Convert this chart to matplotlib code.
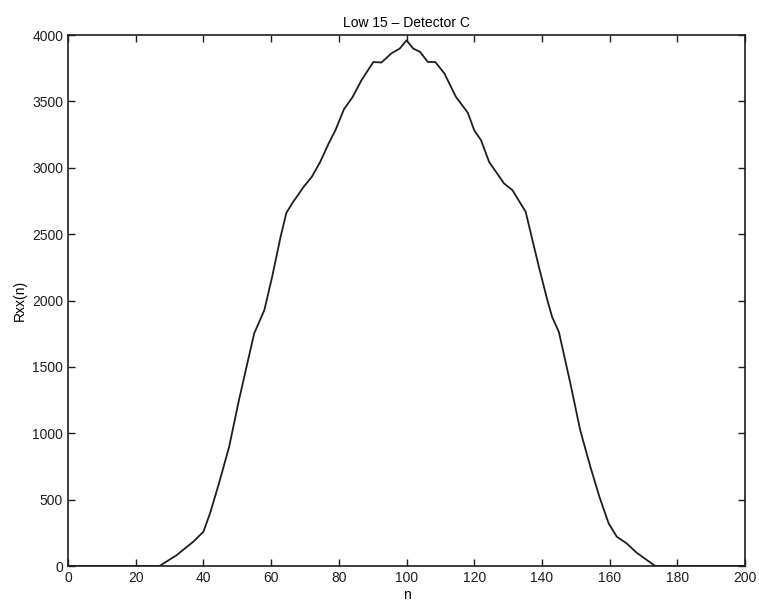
import matplotlib.pyplot as plt

plt.rcParams['font.family'] = ['Liberation Sans', 'DejaVu Sans']

# samples
n = [0, 27, 32, 37, 40, 42, 44.6, 47.6, 50.5, 53, 55, 58, 60.3, 62.8, 64.5,
     66.2, 69.6, 72, 74.5, 77, 79, 81.5, 84, 86.7, 90.2, 92.6, 95.5, 98, 100,
     102, 104, 106.3, 108.5, 111.2, 114.6, 118.1, 120, 122, 124.4, 128.8,
     131.3, 135.2, 137.2, 139.1, 141.6, 143, 145, 148.4, 151.3, 154.3, 157,
     159.7, 162.1, 165, 168, 171, 173.5, 200]
rxx = [0, 0, 80, 183, 258, 400, 623, 898, 1250, 1530, 1752, 1928, 2178, 2480,
       2660, 2731, 2856, 2931, 3044, 3183, 3283, 3440, 3530, 3660, 3797, 3793,
       3861, 3898, 3960, 3898, 3873, 3797, 3797, 3710, 3534, 3415, 3283, 3208,
       3044, 2882, 2831, 2668, 2455, 2254, 2003, 1877, 1764, 1376, 1024, 748,
       520, 322, 221, 171, 100, 45, 0, 0]

xticks = list(range(0, 201, 20))
yticks = list(range(0, 4001, 500))

fig = plt.figure(figsize=(7.59, 6.04), dpi=100)
ax = fig.add_axes([0.0896, 0.0629, 0.8920, 0.8791])
ax.plot(n, rxx, color='#1e1e1e', linewidth=1.3)

ax.set_xlim(0, 200)
ax.set_ylim(0, 4000)
ax.set_xticks(xticks)
ax.set_yticks(yticks)
ax.tick_params(direction='in', top=True, right=True, labelsize=10, length=5,
               width=1, colors='#1e1e1e')
for s in ax.spines.values():
    s.set_linewidth(1.2)
    s.set_color('#1e1e1e')

ax.set_xlabel('n', fontsize=10, labelpad=2)
ax.set_ylabel('Rxx(n)', fontsize=10, labelpad=4)
ax.set_title('Low 15 \u2013 Detector C', fontsize=10, pad=6)

fig.savefig('out.png', dpi=100)
